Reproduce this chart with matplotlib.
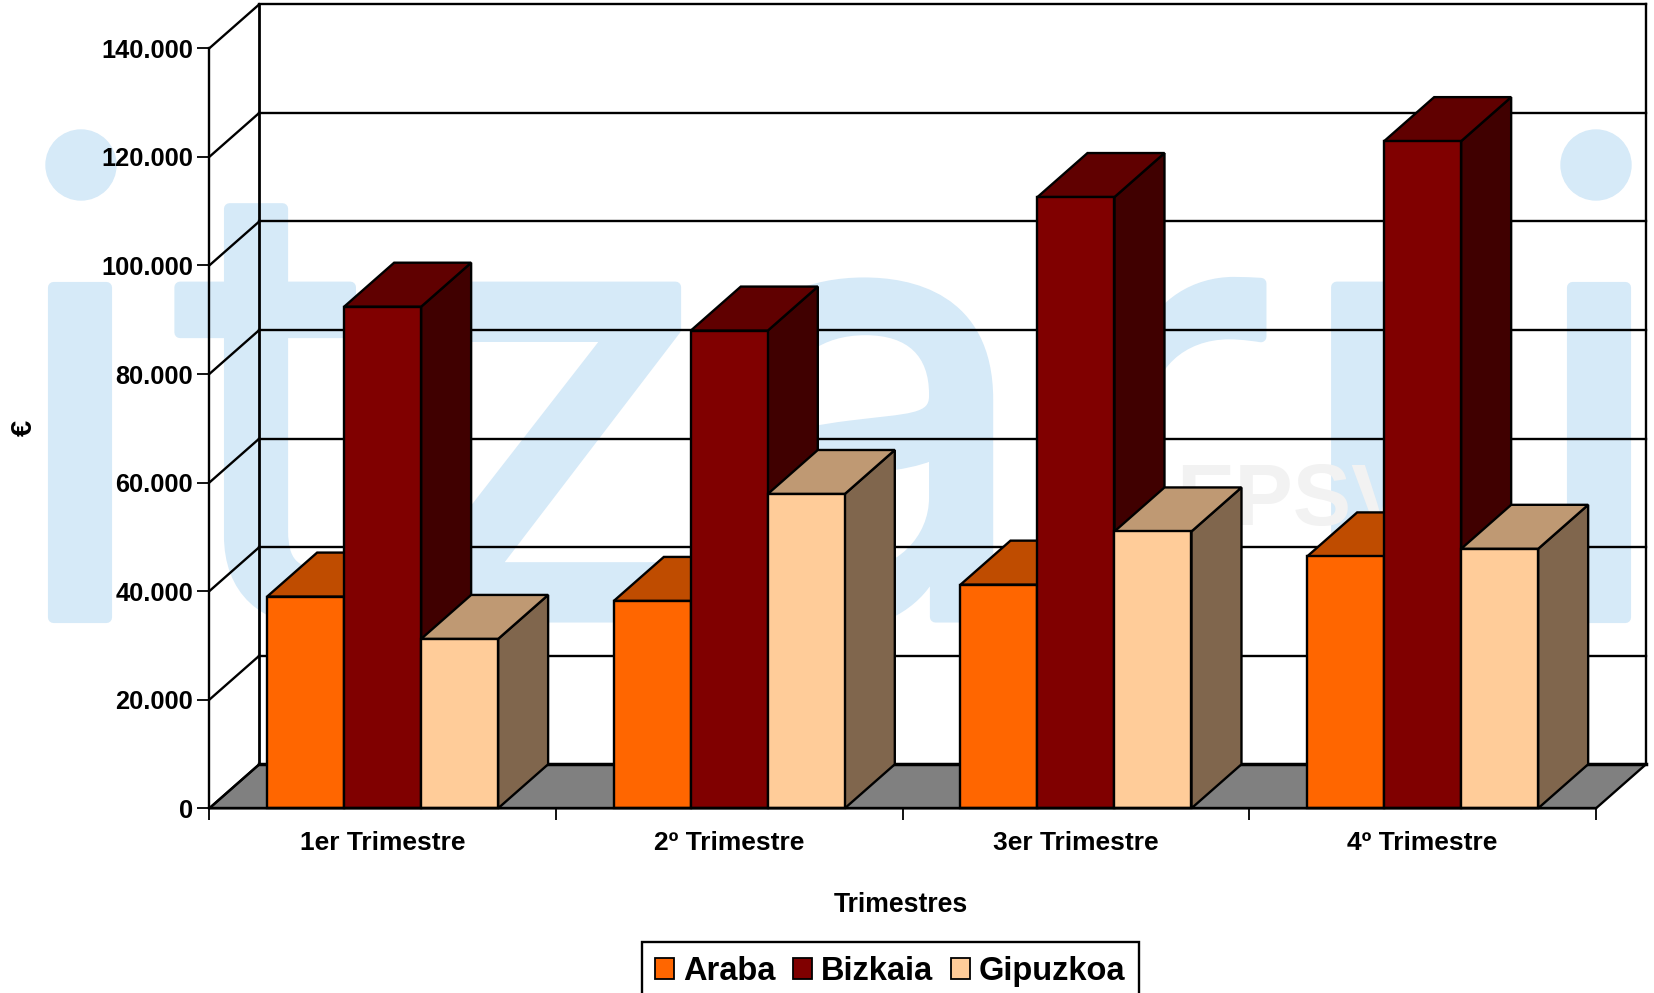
from matplotlib import pyplot as plt
from matplotlib import patheffects
from matplotlib.patches import Polygon, Ellipse, Patch

# data
trimestres = ['1er Trimestre', '2º Trimestre', '3er Trimestre', '4º Trimestre']
provincias = ['Araba', 'Bizkaia', 'Gipuzkoa']
araba = [39000, 38200, 41200, 46400]
bizkaia = [92400, 88000, 112600, 122900]
gipuzkoa = [31200, 57900, 51000, 47800]
y_ticks = [0, 20000, 40000, 60000, 80000, 100000, 120000, 140000]
y_labels = ['0', '20.000', '40.000', '60.000', '80.000', '100.000', '120.000', '140.000']

# front, top, side colours for each serie
colores = [('#FF6600', '#BF4C00', '#804000'),
           ('#800000', '#600000', '#400000'),
           ('#FFCC99', '#BF9973', '#80664D')]

W, H = 1654., 993.
plt.rcParams['font.family'] = ['Liberation Sans', 'DejaVu Sans']
plt.rcParams['font.weight'] = 'bold'

fig = plt.figure(figsize=(W/100, H/100), dpi=100)
ax = fig.add_axes([209.3/W, (H-808.3)/H, 1386.7/W, 760./H])
ax.set_xlim(0, 4)
ax.set_ylim(0, 140000)
ax.patch.set_alpha(0)

# 3d depth, in data units
dx = 50./346.7
dy = 44./760*140000
bar_w = 77./346.7
gap = (1-3*bar_w)/2
lw = 1.7

def fx(x):
  return x/W

def fy(y):
  return (H-y)/H

# watermark behind the chart
azul = '#D6EAF8'
grueso = [patheffects.withStroke(linewidth=8, foreground=azul)]
for letra, x in [('\u0131', 6), ('t', 174), ('z', 385), ('a', 695), ('r', 1047), ('r', 1290), ('\u0131', 1525)]:
  fig.text(fx(x), fy(617), letra, color=azul, fontsize=435, family='Inter', weight='normal', zorder=-5, path_effects=grueso)
fig.text(fx(1176), fy(525), 'EPSV', color='#F2F2F2', fontsize=63, zorder=-3)
for x in [81, 1596]:
  fig.add_artist(Ellipse((fx(x), fy(165)), 70/W, 70/H, color=azul, zorder=-4))

# floor
ax.add_patch(Polygon([(0, 0), (dx, dy), (4+dx, dy), (4, 0)], closed=True, fc='#808080', ec='black', lw=lw, clip_on=False, zorder=1))

# walls and grid
for v in y_ticks:
  ax.plot([0, dx], [v, v+dy], color='black', lw=lw, clip_on=False, zorder=2)
  if v > 0:
    ax.plot([dx, 4+dx], [v+dy, v+dy], color='black', lw=lw, clip_on=False, zorder=2)
ax.plot([dx, dx], [dy, 140000+dy], color='black', lw=2, clip_on=False, zorder=2)
ax.plot([4+dx, 4+dx], [dy, 140000+dy], color='black', lw=lw, clip_on=False, zorder=2)
ax.plot([dx, 4+dx], [dy, dy], color='black', lw=2.5, clip_on=False, zorder=2)

# bars
z = 3
for i in range(len(trimestres)):
  for j, serie in enumerate([araba, bizkaia, gipuzkoa]):
    v = serie[i]
    x0 = i+gap+j*bar_w
    x1 = x0+bar_w
    c = colores[j]
    ax.add_patch(Polygon([(x1, 0), (x1+dx, dy), (x1+dx, v+dy), (x1, v)], closed=True, fc=c[2], ec='black', lw=lw, clip_on=False, zorder=z))
    ax.add_patch(Polygon([(x0, v), (x0+dx, v+dy), (x1+dx, v+dy), (x1, v)], closed=True, fc=c[1], ec='black', lw=lw, clip_on=False, zorder=z))
    ax.bar(x0, v, width=bar_w, align='edge', color=c[0], edgecolor='black', lw=lw, clip_on=False, zorder=z+0.5)
    z += 1

# axes
for s in ['top', 'right']:
  ax.spines[s].set_visible(False)
for s in ['left', 'bottom']:
  ax.spines[s].set_linewidth(lw)
  ax.spines[s].set_zorder(z+1)
ax.set_yticks(y_ticks)
ax.set_yticklabels(y_labels, fontsize=18.3)
ax.set_xticks(range(5))
ax.set_xticklabels([])
ax.set_xticks([i+0.5 for i in range(4)], minor=True)
ax.set_xticklabels(trimestres, minor=True, fontsize=19)
ax.tick_params(axis='y', length=8.6, width=1.3, pad=3)
ax.tick_params(axis='x', which='major', length=8.6, width=1.3)
ax.tick_params(axis='x', which='minor', length=0, pad=16)

ax.set_xlabel('Trimestres', fontsize=19.2, va='center', weight='bold')
ax.xaxis.set_label_coords(0.4985, -0.127)
ax.set_ylabel('€', fontsize=21, va='center', ha='center', weight='bold')
ax.yaxis.set_label_coords(-0.1335, 0.5)

# legend
handles = [Patch(fc=colores[j][0], ec='black', lw=1.3, label=provincias[j]) for j in range(3)]
leg = fig.legend(handles=handles, loc='upper left', bbox_to_anchor=(fx(641.5), fy(942)), ncol=3, fontsize=23.5,
                 handlelength=0.58, handleheight=0.6, handletextpad=0.27, columnspacing=0.55,
                 borderpad=0.42, borderaxespad=0, fancybox=False, framealpha=1, edgecolor='black')
leg.get_frame().set_linewidth(lw)

fig.savefig('out.png', dpi=100)
